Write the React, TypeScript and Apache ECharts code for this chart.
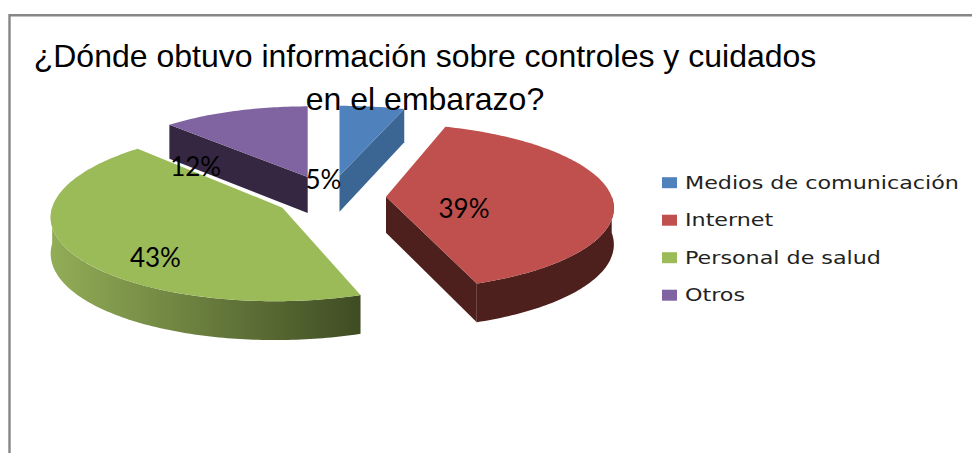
import React, { useEffect, useRef } from "react";
import * as echarts from "echarts";

const categories = ["Medios de comunicación", "Internet", "Personal de salud", "Otros"];
const percentages = [5, 39, 43, 12];
const titleText = "¿Dónde obtuvo información sobre controles y cuidados\nen el embarazo?";

const topColors = ["#4f81bd", "#c0504d", "#9bbb59", "#8064a2"];
const wallColors = ["#3b6592", "#4d1f1d", "#5f7337", "#352642"];
const explodeDistance = [60, 56, 56, 60];
const radiusScaleX = [0.98, 0.99, 1.01, 0.93];
const radiusScaleY = [0.92, 1, 1.05, 0.93];
const perspective = [0.08, 0.12, 0.08, 0.08];
const shearX = [0, -4, 7.5, 0];
const labelOffset = [[-16, 3], [78, 11], [-127, 49], [-112, -11]];

const CX = 330;
const CY = 197;
const RX = 228;
const RY = 82;
const DEPTH = 36;
const FLATTEN = 0.36;

const total = percentages.reduce((a, b) => a + b, 0);
const rad = (d: number) => (d * Math.PI) / 180;

function sliceAngles(index: number) {
  let start = 0;
  for (let i = 0; i < index; i++) start += (percentages[i] / total) * 360;
  return [start, start + (percentages[index] / total) * 360];
}

function renderSlice(index: number) {
  return (_params: any, api: any) => {
    const value = api.value(0);
    const [a0, a1] = sliceAngles(index);
    const mid = rad((a0 + a1) / 2);
    const ax = CX + explodeDistance[index] * Math.sin(mid);
    const ay = CY - explodeDistance[index] * FLATTEN * Math.cos(mid);
    const rim = (deg: number): number[] => {
      const u = Math.sin(rad(deg));
      const v = Math.cos(rad(deg));
      const k = 1 / (1 + perspective[index] * v);
      return [
        ax + RX * radiusScaleX[index] * u * k + shearX[index] * v,
        ay - RY * radiusScaleY[index] * v * k,
      ];
    };
    const drop = (p: number[], deg: number): number[] => [
      p[0],
      p[1] + DEPTH * (1 - 0.08 * Math.cos(rad(deg))),
    ];
    const arc = (from: number, to: number) => {
      const pts: number[][] = [];
      const n = Math.max(2, Math.ceil(Math.abs(to - from)));
      for (let i = 0; i <= n; i++) pts.push(rim(from + ((to - from) * i) / n));
      return pts;
    };
    const children: any[] = [];
    const apex = [ax, ay];
    const apexLow = [ax, ay + DEPTH];
    const wall = (deg: number) => {
      const p = rim(deg);
      children.push({
        type: "polygon",
        shape: { points: [apex, p, drop(p, deg), apexLow] },
        style: { fill: wallColors[index] },
      });
    };
    if (Math.sin(rad(a0)) < -1e-6) wall(a0);
    if (Math.sin(rad(a1)) > 1e-6) wall(a1);
    const f = Math.max(a0, 90);
    const t = Math.min(a1, 270);
    if (f < t) {
      const top = arc(f, t);
      const low = [];
      for (let i = top.length - 1; i >= 0; i--) {
        low.push(drop(top[i], f + ((t - f) * i) / (top.length - 1)));
      }
      const fill =
        index === 2
          ? new echarts.graphic.LinearGradient(0, 0, 1, 0, [
              { offset: 0, color: "#92ad57" },
              { offset: 1, color: "#3f4c23" },
            ])
          : wallColors[index];
      children.push({ type: "polygon", shape: { points: [...top, ...low] }, style: { fill } });
    }
    children.push({
      type: "polygon",
      shape: { points: [apex, ...arc(a0, a1)] },
      style: { fill: topColors[index] },
    });
    children.push({
      type: "text",
      z2: 50,
      style: {
        text: `${value}%`,
        x: ax + labelOffset[index][0],
        y: ay + labelOffset[index][1],
        fill: "#000000",
        font: "26px Lato",
        align: "center",
        verticalAlign: "middle",
      },
    });
    return { type: "group", children };
  };
}

const legendGraphics = categories.flatMap((name, i) => {
  const y = 182.7 + i * 37.5;
  return [
    {
      type: "rect",
      shape: { x: 662, y: y - 5.5, width: 15, height: 11 },
      style: { fill: topColors[i] },
    },
    {
      type: "text",
      x: 685,
      y,
      scaleX: 1.27,
      style: {
        text: name,
        fill: "#222222",
        font: "17.5px 'DejaVu Sans'",
        align: "left",
        verticalAlign: "middle",
      },
    },
  ];
});

export default function App() {
  const ref = useRef<HTMLDivElement>(null);
  useEffect(() => {
    const chart = echarts.init(ref.current!, undefined, { renderer: "svg" });
    chart.setOption({
      animation: false,
      backgroundColor: "#ffffff",
      title: {
        text: titleText,
        left: 420,
        top: 29,
        textAlign: "center",
        textStyle: {
          fontFamily: "Liberation Sans",
          fontSize: 32,
          fontWeight: "normal",
          color: "#000000",
          lineHeight: 43,
        },
      },
      graphic: [
        {
          type: "polyline",
          shape: { points: [[9.5, 453], [9.5, 15.3], [972, 15.3]] },
          style: { stroke: "#868686", lineWidth: 2.4, fill: "none" },
        },
        ...legendGraphics,
      ],
      series: categories.map((name, i) => ({
        type: "custom",
        name,
        coordinateSystem: "none",
        clip: false,
        itemStyle: { color: topColors[i] },
        data: [{ name, value: [percentages[i]] }],
        renderItem: renderSlice(i),
      })),
    });
    return () => chart.dispose();
  }, []);
  return (
    <div
      ref={ref}
      style={{ position: "absolute", left: 0, top: 0, width: 972, height: 453 }}
    />
  );
}
